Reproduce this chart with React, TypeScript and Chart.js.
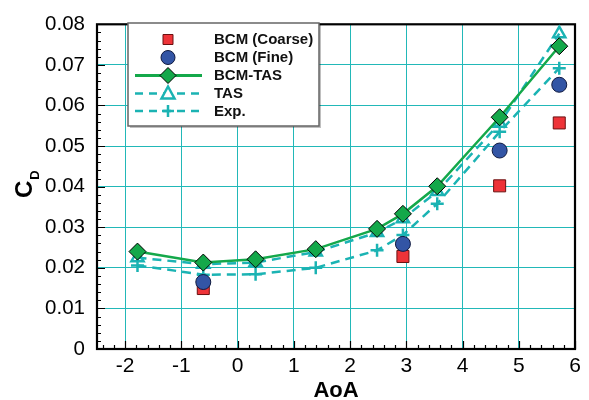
import React, { useEffect, useRef } from "react";
import { Chart, registerables } from "chart.js";

Chart.register(...registerables);

const aoa = [-1.78, -0.61, 0.32, 1.39, 2.48, 2.94, 3.55, 4.66, 5.72];
const bcmTas = [0.024, 0.0213, 0.0221, 0.0246, 0.0296, 0.0333, 0.0401, 0.0571, 0.0746];
const tas = [0.0225, 0.0209, 0.0213, 0.0239, 0.0287, 0.0321, 0.0388, 0.0556, 0.0777];
const exp = [0.0206, 0.0183, 0.0184, 0.02, 0.0243, 0.0281, 0.0358, 0.0535, 0.0692];
const aoaBcm = [-0.61, 2.94, 4.66, 5.72];
const bcmFine = [0.0165, 0.0259, 0.0489, 0.0651];
const bcmCoarse = [0.0149, 0.0228, 0.0402, 0.0557];
const xTicks = [-2, -1, 0, 1, 2, 3, 4, 5, 6];
const yTicks = [0, 0.01, 0.02, 0.03, 0.04, 0.05, 0.06, 0.07, 0.08];
const legendLabels = ["BCM (Coarse)", "BCM (Fine)", "BCM-TAS", "TAS", "Exp."];

const GREEN = "#14a84a";
const TEAL = "#1bb3b3";
const RED = "#ee3338";
const BLUE = "#3355a5";
const GRID = "#22b8b8";
const FONT = "'Liberation Sans', Arial, sans-serif";

const pts = (xs: number[], ys: number[]) => xs.map((x, i) => ({ x, y: ys[i] }));

function drawMarker(ctx: CanvasRenderingContext2D, kind: string, x: number, y: number) {
  ctx.save();
  ctx.lineWidth = 1;
  ctx.setLineDash([]);
  if (kind === "rect") {
    ctx.fillStyle = RED;
    ctx.strokeStyle = "#6b1010";
    ctx.beginPath();
    ctx.rect(x - 5, y - 5, 10, 10);
    ctx.fill();
    ctx.stroke();
  } else if (kind === "circle") {
    ctx.fillStyle = BLUE;
    ctx.strokeStyle = "#101a40";
    ctx.beginPath();
    ctx.arc(x, y, 7, 0, Math.PI * 2);
    ctx.fill();
    ctx.stroke();
  } else if (kind === "diamond") {
    ctx.fillStyle = GREEN;
    ctx.strokeStyle = "#000";
    ctx.beginPath();
    ctx.moveTo(x, y - 8);
    ctx.lineTo(x + 8, y);
    ctx.lineTo(x, y + 8);
    ctx.lineTo(x - 8, y);
    ctx.closePath();
    ctx.fill();
    ctx.stroke();
  } else if (kind === "triangle") {
    ctx.fillStyle = "#fff";
    ctx.strokeStyle = TEAL;
    ctx.lineWidth = 2.5;
    ctx.beginPath();
    ctx.moveTo(x, y - 7);
    ctx.lineTo(x + 6.5, y + 5);
    ctx.lineTo(x - 6.5, y + 5);
    ctx.closePath();
    ctx.fill();
    ctx.stroke();
  } else if (kind === "cross") {
    ctx.strokeStyle = TEAL;
    ctx.lineWidth = 2.5;
    ctx.beginPath();
    ctx.moveTo(x - 6, y);
    ctx.lineTo(x + 6, y);
    ctx.moveTo(x, y - 6);
    ctx.lineTo(x, y + 6);
    ctx.stroke();
  }
  ctx.restore();
}

const framePlugin = {
  id: "frameTicks",
  beforeDatasetsDraw(chart: any) {
    const { ctx, chartArea: a, scales } = chart;
    const xs = scales.x;
    const ys = scales.y;
    ctx.save();
    ctx.strokeStyle = "#000";
    ctx.lineWidth = 1.2;
    ctx.beginPath();
    for (let i = -12; i <= 30; i++) {
      const v = i / 5;
      if (v < -2.5 || v > 6) continue;
      const px = Math.round(xs.getPixelForValue(v)) + 0.5;
      const len = i % 5 === 0 ? 8 : 4;
      ctx.moveTo(px, a.bottom);
      ctx.lineTo(px, a.bottom - len);
    }
    for (let i = 0; i <= 40; i++) {
      const v = i / 500;
      const py = Math.round(ys.getPixelForValue(v)) + 0.5;
      const len = i % 5 === 0 ? 8 : 4;
      ctx.moveTo(a.left, py);
      ctx.lineTo(a.left + len, py);
    }
    ctx.stroke();
    ctx.lineWidth = 2.2;
    ctx.strokeRect(a.left, a.top, a.right - a.left, a.bottom - a.top);
    ctx.restore();
  },
  afterDraw(chart: any) {
    const { ctx, chartArea: a } = chart;
    ctx.save();
    // axis titles
    ctx.fillStyle = "#000";
    ctx.font = `bold 22px ${FONT}`;
    ctx.textAlign = "center";
    ctx.textBaseline = "alphabetic";
    ctx.fillText("AoA", (a.left + a.right) / 2, 397);
    ctx.save();
    ctx.translate(32, 198);
    ctx.rotate(-Math.PI / 2);
    ctx.textAlign = "left";
    ctx.font = `bold 24px ${FONT}`;
    ctx.fillText("C", 0, 0);
    const cw = ctx.measureText("C").width;
    ctx.font = `bold 13px ${FONT}`;
    ctx.fillText("D", cw + 1, 7);
    ctx.restore();

    // legend
    const bx = 128, by = 23, bw = 191, bh = 103;
    ctx.fillStyle = "rgba(0,0,0,0.25)";
    ctx.fillRect(bx + 2, by + 2, bw, bh);
    ctx.fillStyle = "#fff";
    ctx.fillRect(bx, by, bw, bh);
    ctx.strokeStyle = "#666";
    ctx.lineWidth = 1.5;
    ctx.strokeRect(bx, by, bw, bh);
    const rows = [39.5, 57.5, 75.5, 93.5, 111];
    const kinds = ["rect", "circle", "diamond", "triangle", "cross"];
    const x0 = 135, x1 = 202, xm = 168;
    rows.forEach((ry, i) => {
      if (i === 2) {
        ctx.strokeStyle = GREEN;
        ctx.lineWidth = 3;
        ctx.setLineDash([]);
        ctx.beginPath();
        ctx.moveTo(x0, ry);
        ctx.lineTo(x1, ry);
        ctx.stroke();
      } else if (i >= 3) {
        ctx.strokeStyle = TEAL;
        ctx.lineWidth = 2.5;
        ctx.setLineDash([8, 6]);
        ctx.beginPath();
        ctx.moveTo(x0, ry);
        ctx.lineTo(x1, ry);
        ctx.stroke();
        ctx.setLineDash([]);
      }
      drawMarker(ctx, kinds[i], xm, ry);
      ctx.fillStyle = "#111";
      ctx.font = `bold 15px ${FONT}`;
      ctx.textAlign = "left";
      ctx.textBaseline = "middle";
      ctx.fillText(legendLabels[i], 214, ry + 0.5);
    });
    ctx.restore();
  },
};

export default function App() {
  const ref = useRef<HTMLCanvasElement | null>(null);
  useEffect(() => {
    if (!ref.current) return;
    const chart = new Chart(ref.current, {
      type: "scatter",
      data: {
        datasets: [
          {
            label: "BCM-TAS",
            data: pts(aoa, bcmTas),
            showLine: true,
            borderColor: GREEN,
            borderWidth: 2.5,
            pointStyle: "rectRot",
            pointRadius: 8.5,
            pointBackgroundColor: GREEN,
            pointBorderColor: "#000",
            pointBorderWidth: 1,
            order: 1,
          },
          {
            label: "BCM (Fine)",
            data: pts(aoaBcm, bcmFine),
            pointStyle: "circle",
            pointRadius: 7.5,
            pointBackgroundColor: BLUE,
            pointBorderColor: "#101a40",
            pointBorderWidth: 1,
            order: 2,
          },
          {
            label: "BCM (Coarse)",
            data: pts(aoaBcm, bcmCoarse),
            pointStyle: "rect",
            pointRadius: 8.5,
            pointBackgroundColor: RED,
            pointBorderColor: "#6b1010",
            pointBorderWidth: 1,
            order: 3,
          },
          {
            label: "TAS",
            data: pts(aoa, tas),
            showLine: true,
            borderColor: TEAL,
            borderWidth: 2.5,
            borderDash: [9, 6],
            pointStyle: "triangle",
            pointRadius: 7,
            pointBackgroundColor: "rgba(255,255,255,0)",
            pointBorderColor: TEAL,
            pointBorderWidth: 2.5,
            order: 4,
          },
          {
            label: "Exp.",
            data: pts(aoa, exp),
            showLine: true,
            borderColor: TEAL,
            borderWidth: 2.5,
            borderDash: [9, 6],
            pointStyle: "cross",
            pointRadius: 6.5,
            pointBorderColor: TEAL,
            pointBorderWidth: 2.5,
            order: 5,
          },
        ],
      },
      options: {
        responsive: false,
        animation: false,
        events: [],
        layout: { padding: { left: 0, top: 20, right: 14, bottom: 0 } },
        plugins: { legend: { display: false }, tooltip: { enabled: false } },
        scales: {
          x: {
            type: "linear",
            min: -2.5,
            max: 6,
            afterBuildTicks: (s: any) => {
              s.ticks = xTicks.map((v) => ({ value: v }));
            },
            afterFit: (s: any) => {
              s.height = 51;
            },
            grid: { color: GRID, lineWidth: 1, drawTicks: false },
            border: { display: false },
            ticks: {
              color: "#000",
              font: { family: FONT, size: 21 },
              padding: 5,
              maxRotation: 0,
              callback: (v: any) => String(v),
            },
          },
          y: {
            type: "linear",
            min: 0,
            max: 0.08,
            afterBuildTicks: (s: any) => {
              s.ticks = yTicks.map((v) => ({ value: v }));
            },
            afterFit: (s: any) => {
              s.width = 97;
            },
            grid: { color: GRID, lineWidth: 1, drawTicks: false },
            border: { display: false },
            ticks: {
              color: "#000",
              font: { family: FONT, size: 20.5 },
              padding: 12,
              callback: (v: any) => (v === 0 ? "0" : Number(v).toFixed(2)),
            },
          },
        },
      },
      plugins: [framePlugin],
    });
    return () => chart.destroy();
  }, []);
  return (
    <div style={{ position: "absolute", left: 0, top: 0 }}>
      <canvas ref={ref} width={589} height={400} style={{ display: "block" }} />
    </div>
  );
}
